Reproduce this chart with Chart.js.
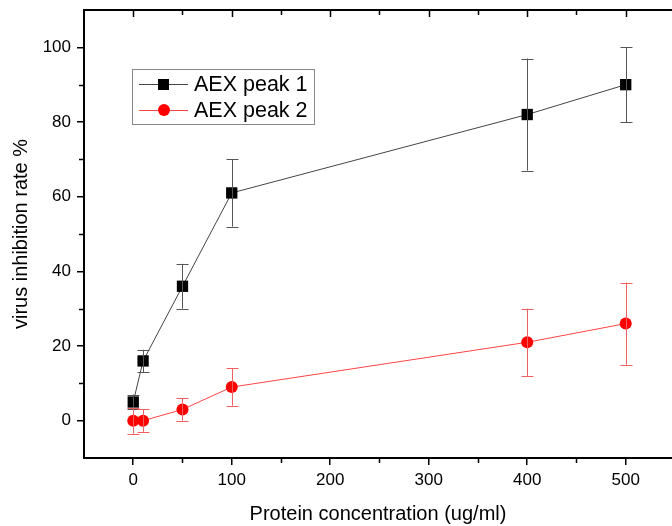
<!DOCTYPE html>
<html>
<head>
<meta charset="utf-8">
<script src="https://cdn.jsdelivr.net/npm/chart.js@4/dist/chart.umd.min.js"></script>
<style>
  html, body { margin: 0; padding: 0; background: #fff; overflow: hidden; }
  #wrap { width: 672px; height: 526px; }
</style>
</head>
<body>
<div id="wrap"><canvas id="chart" width="672" height="526"></canvas></div>
<script>
const concentrations = [0, 10, 50, 100, 400, 500]
const peak1 = [5, 16, 36, 61, 82, 90]
const peak1Err = [2, 3, 6, 9, 15, 10]
const peak2 = [0, 0, 3, 9, 21, 26]
const peak2Err = [3.5, 3, 3, 5, 9, 11]
const xTicks = [0, 100, 200, 300, 400, 500]
const xMinor = [50, 150, 250, 350, 450]
const yTicks = [0, 20, 40, 60, 80, 100]
const yMinor = [10, 30, 50, 70, 90]

const FONT = '"Liberation Sans", Arial, sans-serif'

// error bars, minor ticks, top frame line and the floating legend
const extras = {
  id: 'extras',
  afterDatasetsDraw(chart) {
    const ctx = chart.ctx
    const x = chart.scales.x
    const y = chart.scales.y
    ctx.save()
    chart.data.datasets.forEach((ds) => {
      ctx.strokeStyle = ds.errColor
      ctx.lineWidth = 1
      ds.data.forEach((p, i) => {
        const px = Math.round(x.getPixelForValue(p.x)) + 0.5
        const top = y.getPixelForValue(p.y + ds.err[i])
        const bot = y.getPixelForValue(p.y - ds.err[i])
        ctx.beginPath()
        ctx.moveTo(px, top); ctx.lineTo(px, bot)
        ctx.moveTo(px - 6, Math.round(top) + 0.5); ctx.lineTo(px + 6, Math.round(top) + 0.5)
        ctx.moveTo(px - 6, Math.round(bot) + 0.5); ctx.lineTo(px + 6, Math.round(bot) + 0.5)
        ctx.stroke()
      })
    })
    ctx.restore()
  },
  afterDraw(chart) {
    const ctx = chart.ctx
    const x = chart.scales.x
    const y = chart.scales.y
    const area = chart.chartArea
    ctx.save()
    ctx.strokeStyle = '#000'
    ctx.lineWidth = 2
    ctx.beginPath()
    ctx.moveTo(area.left, area.top)
    ctx.lineTo(chart.width, area.top)
    ctx.stroke()
    ctx.lineWidth = 1.5
    ctx.beginPath()
    xMinor.forEach((v) => {
      const px = Math.round(x.getPixelForValue(v)) + 0.5
      ctx.moveTo(px, area.bottom); ctx.lineTo(px, area.bottom + 5)
      ctx.moveTo(px, area.top); ctx.lineTo(px, area.top + 5)
    })
    xTicks.forEach((v) => {
      const px = Math.round(x.getPixelForValue(v)) + 0.5
      ctx.moveTo(px, area.top); ctx.lineTo(px, area.top + 7)
    })
    yMinor.forEach((v) => {
      const py = Math.round(y.getPixelForValue(v)) + 0.5
      ctx.moveTo(area.left, py); ctx.lineTo(area.left - 5, py)
    })
    ctx.stroke()

    // legend box
    const lx = 132, ly = 69, lw = 182, lh = 55
    ctx.lineWidth = 1
    ctx.strokeStyle = '#888'
    ctx.strokeRect(lx + 0.5, ly + 0.5, lw, lh)
    ctx.font = '21.5px ' + FONT
    ctx.textBaseline = 'middle'
    chart.data.datasets.forEach((ds, i) => {
      const cy = ly + 15 + i * 26
      ctx.strokeStyle = ds.borderColor
      ctx.beginPath()
      ctx.moveTo(lx + 7, cy + 0.5); ctx.lineTo(lx + 56, cy + 0.5)
      ctx.stroke()
      ctx.fillStyle = ds.pointBackgroundColor
      if (ds.pointStyle === 'rect') {
        ctx.fillRect(lx + 26, cy - 5, 11, 11)
      } else {
        ctx.beginPath()
        ctx.arc(lx + 32, cy, 6, 0, Math.PI * 2)
        ctx.fill()
      }
      ctx.fillStyle = '#000'
      ctx.fillText(ds.label, lx + 62, cy + 1)
    })
    ctx.restore()
  }
}

new Chart(document.getElementById('chart'), {
  type: 'line',
  data: {
    datasets: [
      {
        label: 'AEX peak 1',
        data: concentrations.map((c, i) => ({ x: c, y: peak1[i] })),
        err: peak1Err,
        errColor: '#555',
        borderColor: '#444',
        borderWidth: 1,
        pointStyle: 'rect',
        pointRadius: 8,
        pointBackgroundColor: '#000',
        pointBorderColor: '#000',
        pointBorderWidth: 0,
      },
      {
        label: 'AEX peak 2',
        data: concentrations.map((c, i) => ({ x: c, y: peak2[i] })),
        err: peak2Err,
        errColor: '#f06060',
        borderColor: '#f44',
        borderWidth: 1,
        pointStyle: 'circle',
        pointRadius: 6,
        pointBackgroundColor: '#f00',
        pointBorderColor: '#f00',
        pointBorderWidth: 0,
      },
    ],
  },
  options: {
    responsive: false,
    animation: false,
    layout: { autoPadding: false, padding: { top: 10, right: 0, left: 0, bottom: 0 } },
    plugins: {
      legend: { display: false },
      tooltip: { enabled: false },
    },
    scales: {
      x: {
        type: 'linear',
        min: -50,
        max: 547,
        afterBuildTicks: (s) => { s.ticks = xTicks.map((v) => ({ value: v })) },
        afterFit: (s) => { s.height = 68; s.paddingLeft = 0; s.paddingRight = 0 },
        grid: { drawOnChartArea: false, tickLength: 7, color: '#000', lineWidth: 1.5 },
        border: { display: true, color: '#000', width: 2 },
        ticks: { color: '#000', font: { family: FONT, size: 17 }, padding: 5, maxRotation: 0 },
        title: { display: true, text: 'Protein concentration (ug/ml)', color: '#000', font: { family: FONT, size: 20 }, padding: { top: 0, bottom: 0 } },
      },
      y: {
        min: -10,
        max: 110,
        afterBuildTicks: (s) => { s.ticks = yTicks.map((v) => ({ value: v })) },
        afterFit: (s) => { s.width = 84; s.paddingTop = 0; s.paddingBottom = 0 },
        grid: { drawOnChartArea: false, tickLength: 7, color: '#000', lineWidth: 1.5 },
        border: { display: true, color: '#000', width: 2 },
        ticks: { color: '#000', font: { family: FONT, size: 17 }, padding: 6 },
        title: { display: true, text: 'virus inhibition rate %', color: '#000', font: { family: FONT, size: 20 }, padding: { top: 9, bottom: 0 } },
      },
    },
  },
  plugins: [extras],
})
</script>
</body>
</html>
